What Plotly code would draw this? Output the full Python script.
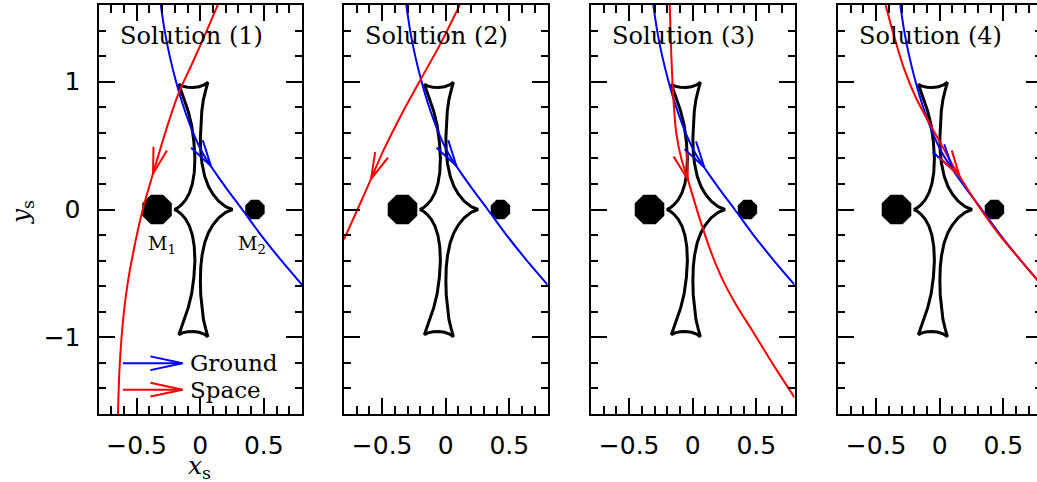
import numpy as np
import plotly.graph_objects as go

# ---------------- data ----------------
# caustic, upper half: left cusp -> top-left cusp -> top arc -> top-right cusp -> right cusp
caustic_x = [-0.205, -0.178, -0.147, -0.115, -0.085, -0.062, -0.047, -0.042, -0.050, -0.068, -0.095, -0.130, -0.168,
             -0.140, -0.100, -0.055, -0.010, 0.030, 0.060,
             0.042, 0.025, 0.012, 0.004, 0.001, 0.004, 0.014, 0.035, 0.065, 0.100, 0.145, 0.200, 0.253]
caustic_y = [0.000, 0.012, 0.037, 0.075, 0.130, 0.200, 0.290, 0.400, 0.530, 0.660, 0.770, 0.870, 0.980,
             0.965, 0.957, 0.955, 0.961, 0.975, 0.995,
             0.930, 0.860, 0.770, 0.670, 0.560, 0.450, 0.360, 0.260, 0.180, 0.120, 0.065, 0.022, 0.000]

lens_x = [-0.34, 0.43]
lens_y = [0.0, 0.0]
lens_size = [32, 21]
lens_names = ["M<sub>1</sub>", "M<sub>2</sub>"]

# ground-based trajectory (same in every panel)
ground_x = [-0.31, -0.28, -0.24, -0.19, -0.13, -0.06, 0.02, 0.11, 0.21, 0.33, 0.47, 0.63, 0.81]
ground_y = [1.60, 1.40, 1.20, 1.00, 0.80, 0.61, 0.44, 0.30, 0.16, 0.00, -0.19, -0.39, -0.60]

# space-based trajectories, one per solution
space1_x = [0.142, 0.043, -0.060, -0.166, -0.250, -0.360, -0.452, -0.517, -0.574, -0.610, -0.635, -0.647]
space1_y = [1.61, 1.38, 1.15, 0.92, 0.68, 0.32, 0.00, -0.287, -0.60, -0.90, -1.25, -1.60]
space2_x = [0.115, -0.040, -0.190, -0.355, -0.486, -0.590, -0.694, -0.800]
space2_y = [1.61, 1.30, 1.03, 0.73, 0.47, 0.234, 0.00, -0.234]
space3_x = [-0.181, -0.170, -0.155, -0.130, -0.090, -0.040, 0.020, 0.080, 0.150, 0.240, 0.350, 0.470, 0.630, 0.800]
space3_y = [1.60, 1.25, 0.911, 0.60, 0.40, 0.24, 0.04, -0.15, -0.35, -0.56, -0.76, -0.95, -1.21, -1.47]
space4_x = [-0.426, -0.360, -0.280, -0.190, -0.090, 0.000, 0.100, 0.200, 0.310, 0.470, 0.630, 0.800]
space4_y = [1.60, 1.36, 1.10, 0.88, 0.69, 0.53, 0.35, 0.19, 0.02, -0.20, -0.39, -0.59]

space_x = [space1_x, space2_x, space3_x, space4_x]
space_y = [space1_y, space2_y, space3_y, space4_y]

# y value of the arrow tips along each trajectory
ground_tip_y = [0.34, 0.34, 0.33, 0.31]
space_tip_y = [0.28, 0.24, 0.234, 0.26]

panel_titles = ["Solution (1)", "Solution (2)", "Solution (3)", "Solution (4)"]
legend_labels = ["Ground", "Space"]

# ---------------- layout constants ----------------
W, H = 1037, 482
PX = 127.5               # pixels per data unit
BLUE, RED = "#0000ff", "#ff0000"
panel_left = [98.5, 344.0, 591.0, 838.0]
panel_w = 203.5
y_top, y_bot = 5, 414
XR = [-0.8, 0.8]
YR = [-1.6, 1.6]
SERIF = "DejaVu Serif"
SANS = "DejaVu Sans"


def arrow_head(xs, ys, tip_y, length_px=27, half_deg=15):
    xr = np.array(xs[::-1], float)
    yr = np.array(ys[::-1], float)
    tx = float(np.interp(tip_y, yr, xr))
    d = 0.03
    xa = np.interp(tip_y + d, yr, xr)
    xb = np.interp(tip_y - d, yr, xr)
    fx, fy = xb - xa, -2 * d
    n = np.hypot(fx, fy)
    bx, by = -fx / n, -fy / n
    L = length_px / PX
    out_x, out_y = [], []
    for s in (1, -1):
        a = np.radians(s * half_deg)
        rx = bx * np.cos(a) - by * np.sin(a)
        ry = bx * np.sin(a) + by * np.cos(a)
        out_x.append(tx + L * rx)
        out_y.append(tip_y + L * ry)
    return [out_x[0], tx, out_x[1]], [out_y[0], tip_y, out_y[1]]


fig = go.Figure()

cx = caustic_x + caustic_x[::-1][1:]
cy = caustic_y + [-v for v in caustic_y[::-1]][1:]

for k in range(4):
    xa = "x" if k == 0 else f"x{k+1}"
    ya = "y" if k == 0 else f"y{k+1}"
    fig.add_trace(go.Scatter(x=cx, y=cy, mode="lines", line=dict(color="black", width=3),
                             xaxis=xa, yaxis=ya, hoverinfo="skip"))
    fig.add_trace(go.Scatter(x=lens_x, y=lens_y, mode="markers",
                             marker=dict(symbol="octagon", size=lens_size, color="black", opacity=1,
                                         line=dict(width=0)),
                             xaxis=xa, yaxis=ya, hoverinfo="skip"))
    fig.add_trace(go.Scatter(x=ground_x, y=ground_y, mode="lines",
                             line=dict(color=BLUE, width=2, shape="spline", smoothing=0.8),
                             xaxis=xa, yaxis=ya, hoverinfo="skip"))
    fig.add_trace(go.Scatter(x=space_x[k], y=space_y[k], mode="lines",
                             line=dict(color=RED, width=2, shape="spline", smoothing=0.8),
                             xaxis=xa, yaxis=ya, hoverinfo="skip"))
    hx, hy = arrow_head(ground_x, ground_y, ground_tip_y[k])
    fig.add_trace(go.Scatter(x=hx, y=hy, mode="lines", line=dict(color=BLUE, width=2),
                             xaxis=xa, yaxis=ya, hoverinfo="skip"))
    hx, hy = arrow_head(space_x[k], space_y[k], space_tip_y[k])
    fig.add_trace(go.Scatter(x=hx, y=hy, mode="lines", line=dict(color=RED, width=2),
                             xaxis=xa, yaxis=ya, hoverinfo="skip"))

# legend arrows in panel 1
leg_x0, leg_x1, leg_tx = -0.608, -0.139, -0.095
leg_y = [-1.203, -1.41]
for yv, col, lab in zip(leg_y, [BLUE, RED], legend_labels):
    fig.add_trace(go.Scatter(x=[leg_x0, leg_x1], y=[yv, yv], mode="lines", line=dict(color=col, width=2),
                             xaxis="x", yaxis="y", hoverinfo="skip"))
    L = 33 / PX
    a = np.radians(12)
    fig.add_trace(go.Scatter(x=[leg_x1 - L * np.cos(a), leg_x1, leg_x1 - L * np.cos(a)],
                             y=[yv + L * np.sin(a), yv, yv - L * np.sin(a)], mode="lines",
                             line=dict(color=col, width=2), xaxis="x", yaxis="y", hoverinfo="skip"))

# dummy trace for the right-hand tick axis of panel 4
fig.add_trace(go.Scatter(x=[None], y=[None], xaxis="x4", yaxis="y5", hoverinfo="skip"))

annotations = []
for k in range(4):
    xa = "x" if k == 0 else f"x{k+1}"
    ya = "y" if k == 0 else f"y{k+1}"
    annotations.append(dict(text=panel_titles[k], x=-0.07, y=1.355, xref=xa, yref=ya, showarrow=False,
                            font=dict(family=SERIF, size=24, color="black"), xanchor="center", yanchor="middle"))
for lx, name in zip(lens_x, lens_names):
    annotations.append(dict(text=name, x=lx + (0.04 if lx < 0 else -0.02), y=-0.27, xref="x", yref="y",
                            showarrow=False, font=dict(family=SERIF, size=19, color="black"),
                            xanchor="center", yanchor="middle"))
for yv, lab in zip(leg_y, legend_labels):
    annotations.append(dict(text=lab, x=leg_tx, y=yv, xref="x", yref="y", showarrow=False,
                            font=dict(family=SERIF, size=23, color="black"), xanchor="left", yanchor="middle"))
annotations.append(dict(text="<i>x</i><sub>s</sub>", x=199 / W, y=(H - 467) / H, xref="paper", yref="paper",
                        showarrow=False, font=dict(family=SERIF, size=25, color="black"),
                        xanchor="center", yanchor="middle", borderpad=0))
annotations.append(dict(text="<i>y</i><sub>s</sub>", x=22 / W, y=(H - 212) / H, xref="paper", yref="paper",
                        showarrow=False, textangle=-90, font=dict(family=SERIF, size=25, color="black"),
                        xanchor="center", yanchor="middle", borderpad=0))

layout = dict(width=W, height=H, margin=dict(l=0, r=0, t=0, b=0, pad=0),
              paper_bgcolor="white", plot_bgcolor="white", showlegend=False,
              annotations=annotations)

ydom = [(H - y_bot) / H, (H - y_top) / H]
for k in range(4):
    xl = panel_left[k]
    xr = min(xl + panel_w, W)
    rng = list(XR)
    if xl + panel_w > W:
        rng = [XR[0], XR[0] + (W - xl) / (panel_w / (XR[1] - XR[0]))]
    xkey = "xaxis" if k == 0 else f"xaxis{k+1}"
    ykey = "yaxis" if k == 0 else f"yaxis{k+1}"
    layout[xkey] = dict(domain=[xl / W, xr / W], range=rng, anchor="y" if k == 0 else f"y{k+1}",
                        showline=True, linewidth=2, linecolor="black", mirror="ticks",
                        ticks="inside", ticklen=16, tickwidth=2, tickcolor="black",
                        tick0=0, dtick=0.5, showgrid=False, zeroline=False,
                        minor=dict(ticks="inside", ticklen=8, tickwidth=2, tickcolor="black", dtick=0.1,
                                   showgrid=False),
                        tickfont=dict(family=SANS, size=25, color="black"), ticklabelstandoff=8)
    layout[ykey] = dict(domain=ydom, range=YR, anchor="x" if k == 0 else f"x{k+1}",
                        showline=True, linewidth=2, linecolor="black",
                        mirror=("ticks" if k < 3 else False),
                        ticks="inside", ticklen=16, tickwidth=2, tickcolor="black",
                        tick0=0, dtick=1, showgrid=False, zeroline=False,
                        minor=dict(ticks="inside", ticklen=7, tickwidth=2, tickcolor="black", dtick=0.2,
                                   showgrid=False),
                        showticklabels=(k == 0),
                        tickfont=dict(family=SANS, size=25, color="black"), ticklabelstandoff=11)

layout["yaxis5"] = dict(overlaying="y4", anchor="x4", side="right", range=YR, domain=ydom,
                        showline=False, ticks="inside", ticklen=11, tickwidth=2, tickcolor="black",
                        tick0=0, dtick=1, showgrid=False, zeroline=False, showticklabels=False,
                        minor=dict(ticks="inside", ticklen=2, tickwidth=2, tickcolor="black", dtick=0.2,
                                   showgrid=False))

fig.update_layout(**layout)
fig.write_html("out.html")
